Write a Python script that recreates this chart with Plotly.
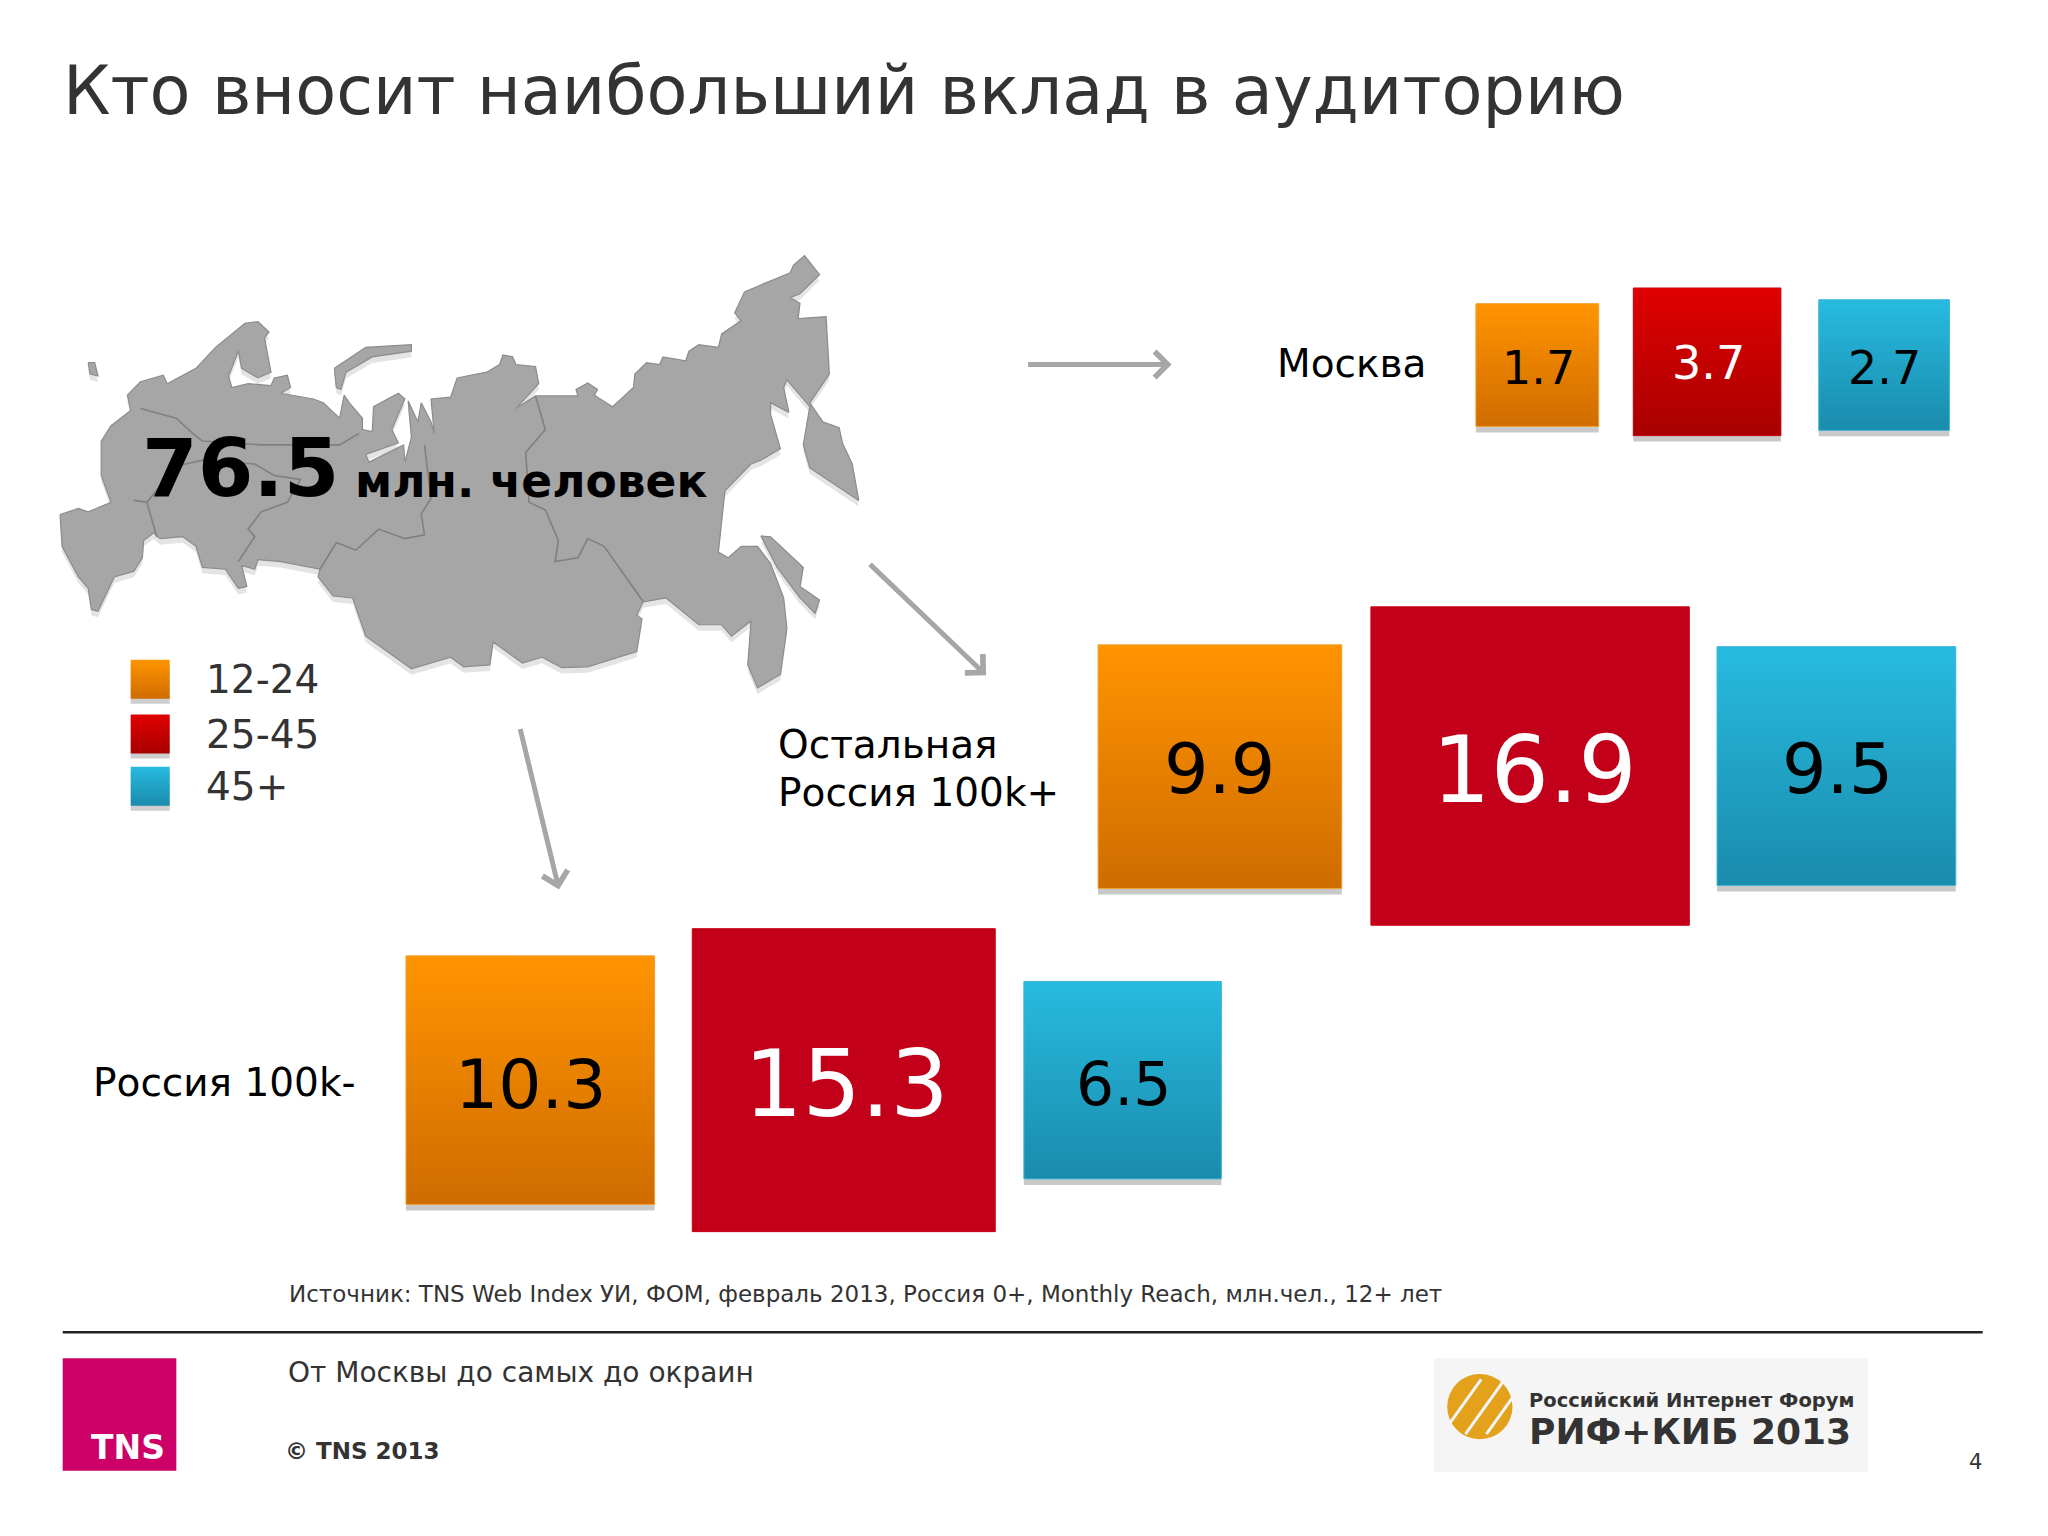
import math
import plotly.graph_objects as go

# values, million people
ages = ['12-24', '25-45', '45+']
moscow = [1.7, 3.7, 2.7]
russia_rest = [9.9, 16.9, 9.5]
russia_small = [10.3, 15.3, 6.5]
total = '76.5'

title = 'Кто вносит наибольший вклад в аудиторию'
source = 'Источник: TNS Web Index УИ, ФОМ, февраль 2013, Россия 0+, Monthly Reach, млн.чел., 12+ лет'
footer = 'От Москвы до самых до окраин'

S = 2048 / 1568
FONT = 'DejaVu Sans'
TOP = ['#FF9400', '#E00000', '#27BBE0']
BOTTOM = ['#CF6C00', '#A80000', '#1A8BAC']
BIG_RED = '#C3001A'
EDGE = ['#F2A033', '#C8000F', '#3DB4D6']
GREY = '#A6A6A6'

moscow_x = [1177, 1307, 1442.5]
moscow_y = [279.5, 277, 279.5]
moscow_sides = [94, 113, 100]
moscow_label_y = [282, 278, 282]
rest_x = [934, 1171.5, 1406]
rest_y = [587, 586.5, 586.5]
rest_label_x = [934, 1175, 1407]
rest_label_y = [589, 590, 589]
small_x = [406, 646, 859.5]
small_y = [827, 827, 827]
small_label_x = [406, 648, 860]
small_label_y = [830, 830, 830]
SIDE_PER_ROOT = 59.3 * S  # px of square side per sqrt(million)

# map outline, in the units of a stretched crop of the slide
map_main = [
    (92, 822), (120, 806), (135, 815), (170, 790), (155, 720), (155, 630), (170, 590), (200, 550), (195, 510),
    (215, 475), (250, 458), (256, 480), (300, 440), (330, 385), (375, 322), (395, 318), (412, 345), (405, 360),
    (415, 450), (395, 465), (370, 440), (365, 395), (350, 460), (355, 490), (380, 480), (415, 485), (420, 465),
    (440, 458), (445, 490), (430, 505), (480, 520), (495, 530), (520, 570), (527, 510), (535, 530), (555, 570),
    (555, 600), (570, 605), (572, 540), (610, 505), (620, 520), (600, 600), (610, 635), (560, 665), (565, 685),
    (618, 640), (620, 685), (630, 620), (625, 525), (640, 580), (645, 530), (660, 580), (665, 610), (660, 520),
    (690, 515), (700, 465), (745, 450), (765, 430), (770, 405), (785, 410), (790, 430), (820, 435), (825, 480),
    (790, 545), (820, 512), (885, 512), (882, 495), (900, 478), (915, 495), (910, 510), (938, 540), (970, 490),
    (972, 455), (990, 425), (1010, 430), (1015, 410), (1050, 420), (1055, 395), (1070, 378), (1100, 385),
    (1105, 350), (1135, 315), (1125, 295), (1140, 240), (1210, 190), (1215, 170), (1232, 145), (1255, 195),
    (1225, 245), (1210, 255), (1225, 270), (1222, 310), (1265, 305), (1270, 455), (1240, 530), (1260, 580),
    (1285, 595), (1290, 635), (1305, 690), (1315, 785), (1240, 700), (1230, 640), (1240, 540), (1210, 480),
    (1205, 470), (1200, 490), (1208, 555), (1180, 530), (1180, 560), (1195, 650), (1165, 680), (1150, 690),
    (1110, 760), (1100, 920), (1115, 935), (1135, 905), (1160, 905), (1180, 950), (1200, 1040), (1205, 1120),
    (1195, 1240), (1160, 1275), (1145, 1215), (1150, 1100), (1120, 1140), (1105, 1110), (1070, 1110), (1020, 1040),
    (985, 1050), (975, 1085), (983, 1095), (975, 1180), (900, 1220), (860, 1222), (830, 1195), (800, 1210),
    (755, 1155), (750, 1215), (710, 1220), (690, 1195), (630, 1225), (560, 1140), (540, 1040), (510, 1035),
    (487, 985), (490, 965), (430, 945), (395, 940), (390, 965), (370, 955), (378, 1010), (365, 1015), (345, 965),
    (310, 960), (300, 905), (280, 880), (245, 885), (235, 870), (220, 890), (218, 935), (205, 970), (175, 985),
    (150, 1075), (140, 1070), (135, 1015), (120, 985), (95, 905), (92, 822),
]
map_sakhalin = [(1165, 878), (1180, 880), (1230, 960), (1225, 1010), (1255, 1045), (1248, 1080), (1225, 1040), (1190, 960), (1165, 878)]
map_zemlya = [(512, 440), (560, 385), (630, 378), (630, 395), (570, 410), (530, 450), (522, 495), (515, 490), (512, 440)]
map_kaliningrad = [(135, 425), (145, 425), (150, 460), (138, 455), (135, 425)]
map_borders = [
    [(215, 545), (270, 570), (295, 610), (310, 630), (400, 640), (520, 640), (550, 610)],
    [(205, 785), (225, 790), (240, 880)],
    [(225, 790), (270, 695), (310, 680), (390, 690), (420, 720), (460, 730), (440, 790), (400, 815), (380, 860), (390, 880), (365, 945)],
    [(650, 640), (660, 780), (645, 820), (650, 875), (620, 885), (580, 860), (545, 915), (515, 895), (490, 965)],
    [(820, 512), (835, 600), (805, 660), (810, 790), (835, 810), (855, 890), (850, 945), (885, 935), (900, 885), (925, 905), (985, 1050)],
]


def crop_xy(points, dy=0):
    xs = [p[0] / 1.53125 for p in points]
    ys = [200 + p[1] / 2.6133 + dy for p in points]
    return xs, ys


fig = go.Figure()

# map, shadow first
for part in [map_main, map_sakhalin, map_zemlya, map_kaliningrad]:
    xs, ys = crop_xy(part, dy=6)
    fig.add_trace(go.Scatter(x=xs, y=ys, mode='lines', fill='toself', fillcolor='rgba(90,90,90,0.16)',
                             line=dict(width=0), hoverinfo='skip'))
for part in [map_main, map_sakhalin, map_zemlya, map_kaliningrad]:
    xs, ys = crop_xy(part)
    fig.add_trace(go.Scatter(x=xs, y=ys, mode='lines', fill='toself', fillcolor=GREY,
                             line=dict(color='#8C8C8C', width=1.2), hoverinfo='skip'))
for part in map_borders:
    xs, ys = crop_xy(part)
    fig.add_trace(go.Scatter(x=xs, y=ys, mode='lines', line=dict(color='#808080', width=1.6), hoverinfo='skip'))


def add_squares(values, xs, ys, label_xs, label_ys, font_sizes, solid_red, sides=None):
    px = [v * S for v in xs]
    py = [v * S for v in ys]
    if sides is None:
        marker_size = dict(size=values, sizemode='area', sizeref=2 / SIDE_PER_ROOT ** 2)
        shadow_sides = [SIDE_PER_ROOT * math.sqrt(v) for v in values]
    else:
        marker_size = dict(size=[v * S for v in sides], sizemode='diameter')
        shadow_sides = [v * S for v in sides]
    keep = [i for i in range(3) if not (solid_red and i == 1)]
    fig.add_trace(go.Scatter(x=[px[i] for i in keep], y=[py[i] + 6 for i in keep], mode='markers', hoverinfo='skip',
                             marker=dict(symbol='square', size=[shadow_sides[i] for i in keep], opacity=1,
                                         color='rgba(60,60,60,0.28)', line=dict(width=0))))
    tops = list(TOP)
    bottoms = list(BOTTOM)
    if solid_red:
        tops[1] = BIG_RED
        bottoms[1] = BIG_RED
    fig.add_trace(go.Scatter(
        x=px, y=py, mode='markers', opacity=1,
        marker=dict(symbol='square', color=tops, opacity=1, line=dict(color=EDGE, width=1),
                    gradient=dict(type='vertical', color=bottoms), **marker_size),
    ))
    label_colors = ['#000000', '#FFFFFF', '#000000']
    for v, lx, ly, fs, c in zip(values, label_xs, label_ys, font_sizes, label_colors):
        fig.add_annotation(x=lx * S, y=ly * S, text=str(v), showarrow=False, xanchor='center', yanchor='middle',
                           font=dict(family=FONT, size=fs, color=c))


add_squares(moscow, moscow_x, moscow_y, [1178, 1308, 1443], moscow_label_y, [46, 46, 46], False, sides=moscow_sides)
add_squares(russia_rest, rest_x, rest_y, rest_label_x, rest_label_y, [70, 92, 70], True)
add_squares(russia_small, small_x, small_y, small_label_x, small_label_y, [68, 92, 60], True)

# legend built by hand: plotly caps legend markers well below this size
legend_y = [520, 562, 602]
fig.add_trace(go.Scatter(x=[115 * S] * 3, y=[v * S + 5 for v in legend_y], mode='markers', hoverinfo='skip',
                         marker=dict(symbol='square', size=39, color='rgba(60,60,60,0.25)', line=dict(width=0))))
fig.add_trace(go.Scatter(x=[115 * S] * 3, y=[v * S for v in legend_y], mode='markers',
                         marker=dict(symbol='square', size=39, color=TOP, line=dict(width=0),
                                     gradient=dict(type='vertical', color=BOTTOM))))

notes = [
    (47, 70, title, 67, '#333333', False),
    (107, 359, total, 80, '#000000', True),
    (270, 369, 'млн. человек', 45.5, '#000000', True),
    (976, 278, 'Москва', 39, '#000000', False),
    (594, 570, 'Остальная', 39, '#000000', False),
    (594, 607, 'Россия 100k+', 39, '#000000', False),
    (70, 829, 'Россия 100k-', 39, '#000000', False),
    (220, 991, source, 23, '#333333', False),
    (219, 1051, footer, 28, '#333333', False),
    (217, 1111, '© TNS 2013', 23, '#333333', True),
    (1506, 1119, '4', 21, '#333333', False),
    (68, 1108, 'TNS', 33, '#FFFFFF', True),
    (1169, 1072, 'Российский Интернет Форум', 19.5, '#333333', True),
    (1169, 1096, 'РИФ+КИБ 2013', 36, '#333333', True),
]
for age, y in zip(ages, legend_y):
    notes.append((156, y, age, 39, '#333333', False))
for x, y, txt, size, color, bold in notes:
    fig.add_annotation(x=x * S, y=y * S, text=f'<b>{txt}</b>' if bold else txt, showarrow=False, xanchor='left',
                       yanchor='middle', font=dict(family=FONT, size=size, color=color))

# arrows between the map and the squares
for x0, y0, x1, y1 in [(786, 279, 897, 279), (665, 431, 755, 517), (398, 557, 428, 681)]:
    fig.add_annotation(x=x1 * S, y=y1 * S, ax=x0 * S, ay=y0 * S, axref='x', ayref='y', text='', showarrow=True,
                       arrowhead=4, arrowsize=1, arrowwidth=5, arrowcolor=GREY)

shapes = [
    dict(type='line', x0=48 * S, x1=1518 * S, y0=1020 * S, y1=1020 * S, line=dict(color='#222222', width=2.5)),
    dict(type='rect', x0=48 * S, x1=135 * S, y0=1040 * S, y1=1126 * S, fillcolor='#CC0066', line=dict(width=0)),
    dict(type='rect', x0=1098 * S, x1=1430 * S, y0=1040 * S, y1=1127 * S, fillcolor='#F5F5F5', line=dict(width=0)),
    dict(type='circle', x0=1108 * S, x1=1158 * S, y0=1052 * S, y1=1102 * S, fillcolor='#E3A11C', line=dict(width=0)),
]
# white stripes across the forum logo
for off in [-14, 4, 20]:
    shapes.append(dict(type='line', x0=(1118 + off) * S, x1=(1148 + off) * S, y0=1098 * S, y1=1056 * S,
                       line=dict(color='#F5F5F5', width=3)))

fig.update_layout(
    width=2048, height=1536, showlegend=False, paper_bgcolor='#FFFFFF', plot_bgcolor='#FFFFFF',
    margin=dict(l=0, r=0, t=0, b=0), shapes=shapes, font=dict(family=FONT),
    xaxis=dict(range=[0, 2048], visible=False, fixedrange=True),
    yaxis=dict(range=[1536, 0], visible=False, fixedrange=True),
)

fig.write_html("out.html", config=dict(displayModeBar=False), post_script="document.body.style.margin='0';")
